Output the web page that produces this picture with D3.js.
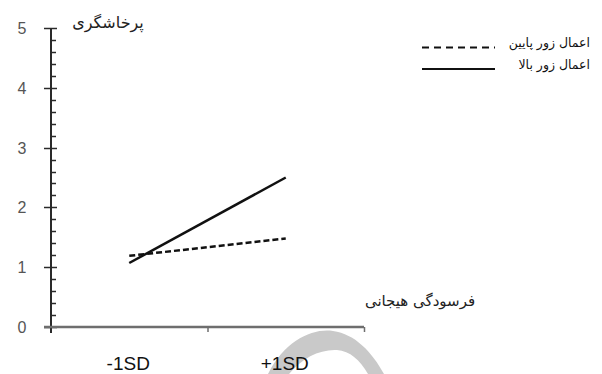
<!DOCTYPE html>
<html>
<head>
<meta charset="utf-8">
<script src="https://cdn.jsdelivr.net/npm/d3@7/dist/d3.min.js"></script>
<style>
  html, body { margin: 0; padding: 0; background: #fff; }
  svg { display: block; }
</style>
</head>
<body>
<svg id="chart" width="602" height="374"></svg>
<script>
// Categories on the x axis
const categories = ["-1SD", "+1SD"];
// Series values (aggression) at each level of emotional exhaustion
const lowForce = [1.19, 1.48];   // اعمال زور پایین
const highForce = [1.07, 2.5];   // اعمال زور بالا
// Axis ticks
const yMajorTicks = [0, 1, 2, 3, 4, 5];
const yMinorStep = 0.2;
const seriesNames = ["اعمال زور پایین", "اعمال زور بالا"];
const yTitle = "پرخاشگری";
const xTitle = "فرسودگی هیجانی";

const svg = d3.select("#chart");

const x = d3.scaleBand().domain(categories).range([51, 364]).padding(0);
const y = d3.scaleLinear().domain([0, 5]).range([327, 28]);

// faint crescent in the lower part of the page
svg.append("path")
  .attr("d", "M 268 374 C 285 340, 313 328, 333 331 C 355 334, 372 352, 384 374 L 368 374 C 360 360, 350 351, 337 350 C 320 349, 302 358, 289 374 Z")
  .attr("fill", "#c9c9c9");

// y axis: line, major crossing ticks, minor ticks on the right
const minorTicks = d3.range(0, 5 + 1e-9, yMinorStep).filter(v => Math.abs(v - Math.round(v)) > 1e-6);
const yAxisG = svg.append("g");
yAxisG.append("line")
  .attr("x1", x.range()[0]).attr("x2", x.range()[0])
  .attr("y1", y(5)).attr("y2", y(0) + 6)
  .attr("stroke", "#2a2a2a").attr("stroke-width", 2);
yAxisG.selectAll("line.major").data(yMajorTicks).join("line")
  .attr("class", "major")
  .attr("x1", 44).attr("x2", 57)
  .attr("y1", d => Math.round(y(d)) + 0.5).attr("y2", d => Math.round(y(d)) + 0.5)
  .attr("stroke", "#2a2a2a").attr("stroke-width", 1.5);
yAxisG.selectAll("line.minor").data(minorTicks).join("line")
  .attr("class", "minor")
  .attr("x1", 51).attr("x2", 56)
  .attr("y1", d => Math.round(y(d)) + 0.5).attr("y2", d => Math.round(y(d)) + 0.5)
  .attr("stroke", "#2a2a2a").attr("stroke-width", 1.5);
yAxisG.selectAll("text").data(yMajorTicks).join("text")
  .attr("x", 22).attr("y", d => y(d) + 6)
  .attr("text-anchor", "middle")
  .attr("font-family", "Liberation Sans, Arial, sans-serif")
  .attr("font-size", 16)
  .attr("fill", "#555")
  .text(d => d);

// x axis built with d3.axisBottom; ticks at band boundaries
const xAxis = d3.axisBottom(d3.scaleLinear().domain([0, 2]).range(x.range()))
  .tickValues([1, 2]).tickSize(5).tickFormat("");
const xAxisG = svg.append("g").attr("transform", `translate(0,${y(0)})`).call(xAxis);
xAxisG.select(".domain").remove();
xAxisG.append("line")
  .attr("x1", 44).attr("x2", x.range()[1])
  .attr("stroke", "#6e6e6e").attr("stroke-width", 2.5);
xAxisG.selectAll(".tick line").attr("stroke", "#6e6e6e").attr("stroke-width", 1.5);

// category labels
svg.selectAll("text.cat").data(categories).join("text")
  .attr("class", "cat")
  .attr("x", d => x(d) + x.bandwidth() / 2 - 1)
  .attr("y", 370)
  .attr("text-anchor", "middle")
  .attr("font-family", "Liberation Sans, Arial, sans-serif")
  .attr("font-size", 19)
  .attr("fill", "#111")
  .text(d => d);

// series lines
const line = d3.line()
  .x((d, i) => x(categories[i]) + x.bandwidth() / 2)
  .y(d => y(d));

svg.append("path").datum(lowForce)
  .attr("d", line)
  .attr("fill", "none").attr("stroke", "#111")
  .attr("stroke-width", 2.5).attr("stroke-dasharray", "6,3");
svg.append("path").datum(highForce)
  .attr("d", line)
  .attr("fill", "none").attr("stroke", "#111")
  .attr("stroke-width", 2.5);

// axis titles
svg.append("text")
  .attr("x", 108).attr("y", 28)
  .attr("text-anchor", "middle")
  .attr("font-family", "DejaVu Sans, sans-serif")
  .attr("font-size", 16)
  .attr("fill", "#222")
  .attr("direction", "rtl")
  .text(yTitle);
svg.append("text")
  .attr("x", 420).attr("y", 306)
  .attr("text-anchor", "middle")
  .attr("font-family", "DejaVu Sans, sans-serif")
  .attr("font-size", 15)
  .attr("fill", "#222")
  .attr("direction", "rtl")
  .text(xTitle);

// legend
const legend = svg.append("g");
const legendRows = [
  { name: seriesNames[0], dash: "7,5", y: 47.5 },
  { name: seriesNames[1], dash: null, y: 69 }
];
legendRows.forEach(r => {
  legend.append("line")
    .attr("x1", 422).attr("x2", 495)
    .attr("y1", r.y).attr("y2", r.y)
    .attr("stroke", "#111").attr("stroke-width", 2)
    .attr("stroke-dasharray", r.dash);
  legend.append("text")
    .attr("x", 590).attr("y", r.y - 0.5)
    .attr("text-anchor", "start")
    .attr("direction", "rtl")
    .attr("font-family", "DejaVu Sans, sans-serif")
    .attr("font-size", 12.5)
    .attr("fill", "#111")
    .text(r.name);
});
</script>
</body>
</html>
